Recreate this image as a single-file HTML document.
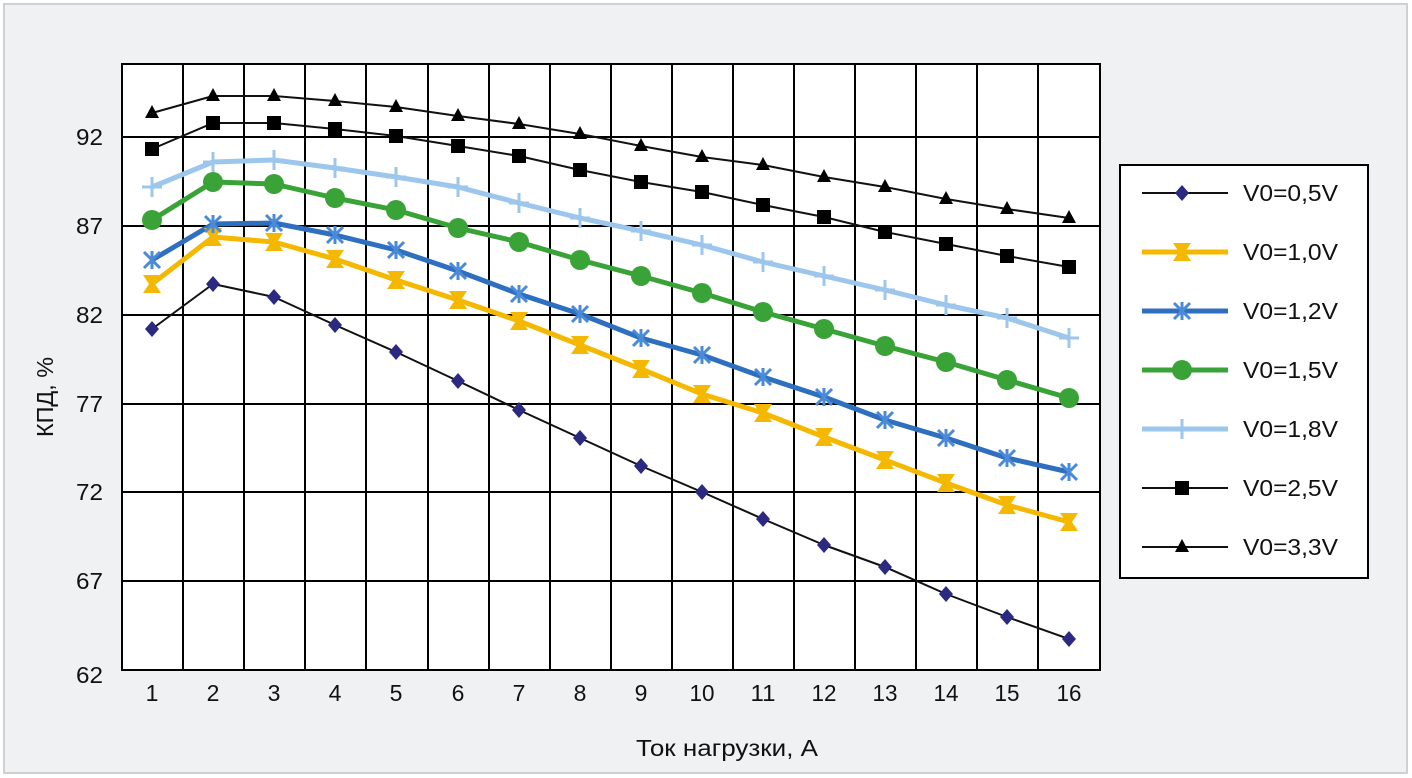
<!DOCTYPE html>
<html><head><meta charset="utf-8"><style>
html,body{margin:0;padding:0;background:#fff}
svg{display:block}
text{font-family:"Liberation Sans",sans-serif}
</style></head><body>
<svg width="1412" height="778" xmlns="http://www.w3.org/2000/svg" xmlns:xlink="http://www.w3.org/1999/xlink">
<defs>
<polygon id="md" points="0,-8 7,0 0,8 -7,0" fill="#2b2a80"/>
<polygon id="mh" points="-9,-9 9,-9 3,0 9,9 -9,9 -3,0" fill="#f5b800"/>
<path id="mx" d="M-8 -8L8 8M8 -8L-8 8M0 -9V9" stroke="#4a8ad6" stroke-width="3" fill="none"/>
<circle id="mo" r="10" fill="#3aa337"/>
<path id="mp" d="M-10 0H10M0 -10V10" stroke="#9cc6ec" stroke-width="3" fill="none"/>
<rect id="ms" x="-7" y="-7" width="14" height="14" fill="#000"/>
<polygon id="mt" points="0,-8 7,5 -7,5" fill="#000"/>
</defs>
<rect x="4" y="4" width="1403" height="769" fill="#f0f1f3" stroke="#cfd0d2" stroke-width="2"/>
<rect x="122" y="64" width="978" height="606" fill="#fff" stroke="#000" stroke-width="2"/>
<g stroke="#000" stroke-width="2">
<line x1="183" y1="64" x2="183" y2="670"/><line x1="244" y1="64" x2="244" y2="670"/><line x1="305" y1="64" x2="305" y2="670"/><line x1="366" y1="64" x2="366" y2="670"/><line x1="428" y1="64" x2="428" y2="670"/><line x1="489" y1="64" x2="489" y2="670"/><line x1="550" y1="64" x2="550" y2="670"/><line x1="611" y1="64" x2="611" y2="670"/><line x1="672" y1="64" x2="672" y2="670"/><line x1="733" y1="64" x2="733" y2="670"/><line x1="794" y1="64" x2="794" y2="670"/><line x1="855" y1="64" x2="855" y2="670"/><line x1="916" y1="64" x2="916" y2="670"/><line x1="977" y1="64" x2="977" y2="670"/><line x1="1038" y1="64" x2="1038" y2="670"/>
<line x1="122" y1="137" x2="1100" y2="137"/><line x1="122" y1="226" x2="1100" y2="226"/><line x1="122" y1="315" x2="1100" y2="315"/><line x1="122" y1="404" x2="1100" y2="404"/><line x1="122" y1="492" x2="1100" y2="492"/><line x1="122" y1="581" x2="1100" y2="581"/>
</g>
<g font-size="23" text-anchor="end" fill="#111">
<text x="103" y="145" textLength="27" lengthAdjust="spacingAndGlyphs">92</text><text x="103" y="234" textLength="27" lengthAdjust="spacingAndGlyphs">87</text><text x="103" y="323" textLength="27" lengthAdjust="spacingAndGlyphs">82</text><text x="103" y="412" textLength="27" lengthAdjust="spacingAndGlyphs">77</text><text x="103" y="500" textLength="27" lengthAdjust="spacingAndGlyphs">72</text><text x="103" y="589" textLength="27" lengthAdjust="spacingAndGlyphs">67</text><text x="103" y="683" textLength="27" lengthAdjust="spacingAndGlyphs">62</text>
</g>
<g font-size="23" text-anchor="middle" fill="#111">
<text x="152" y="701">1</text><text x="213" y="701">2</text><text x="274" y="701">3</text><text x="335" y="701">4</text><text x="396" y="701">5</text><text x="458" y="701">6</text><text x="519" y="701">7</text><text x="580" y="701">8</text><text x="641" y="701">9</text><text x="702" y="701" textLength="25" lengthAdjust="spacingAndGlyphs">10</text><text x="763" y="701" textLength="25" lengthAdjust="spacingAndGlyphs">11</text><text x="824" y="701" textLength="25" lengthAdjust="spacingAndGlyphs">12</text><text x="885" y="701" textLength="25" lengthAdjust="spacingAndGlyphs">13</text><text x="946" y="701" textLength="25" lengthAdjust="spacingAndGlyphs">14</text><text x="1007" y="701" textLength="25" lengthAdjust="spacingAndGlyphs">15</text><text x="1069" y="701" textLength="25" lengthAdjust="spacingAndGlyphs">16</text>
<text x="727" y="756" textLength="182" lengthAdjust="spacingAndGlyphs">Ток нагрузки, А</text>
<text transform="translate(53,397) rotate(-90)" textLength="80" lengthAdjust="spacingAndGlyphs">КПД, %</text>
</g>

<g fill="none" stroke-linejoin="round">
<polyline stroke="#111" stroke-width="2" points="152,329 213,284 274,297 335,325 396,352 458,381 519,410 580,438 641,466 702,492 763,519 824,545 885,567 946,594 1007,617 1069,639"/>
<polyline stroke="#f5b800" stroke-width="5" points="152,284 213,237 274,242 335,259 396,280 458,300 519,321 580,345 641,369 702,394 763,413 824,437 885,460 946,483 1007,505 1069,522"/>
<polyline stroke="#2f6fbf" stroke-width="5" points="152,260 213,224 274,223 335,235 396,250 458,271 519,294 580,314 641,338 702,355 763,377 824,397 885,420 946,438 1007,458 1069,472"/>
<polyline stroke="#3aa337" stroke-width="5" points="152,220 213,182 274,184 335,198 396,210 458,228 519,242 580,260 641,276 702,293 763,312 824,329 885,346 946,362 1007,380 1069,398"/>
<polyline stroke="#9cc6ec" stroke-width="5" points="152,187 213,162 274,160 335,168 396,177 458,187 519,203 580,218 641,231 702,245 763,262 824,276 885,290 946,305 1007,318 1069,338"/>
<polyline stroke="#111" stroke-width="2" points="152,149 213,123 274,123 335,129 396,136 458,146 519,156 580,170 641,182 702,192 763,205 824,217 885,232 946,244 1007,256 1069,267"/>
<polyline stroke="#111" stroke-width="2" points="152,113 213,96 274,96 335,101 396,107 458,116 519,124 580,134 641,146 702,157 763,165 824,177 885,187 946,199 1007,209 1069,218"/>
</g>
<g>
<use href="#md" x="152" y="329"/><use href="#md" x="213" y="284"/><use href="#md" x="274" y="297"/><use href="#md" x="335" y="325"/><use href="#md" x="396" y="352"/><use href="#md" x="458" y="381"/><use href="#md" x="519" y="410"/><use href="#md" x="580" y="438"/><use href="#md" x="641" y="466"/><use href="#md" x="702" y="492"/><use href="#md" x="763" y="519"/><use href="#md" x="824" y="545"/><use href="#md" x="885" y="567"/><use href="#md" x="946" y="594"/><use href="#md" x="1007" y="617"/><use href="#md" x="1069" y="639"/>
<use href="#mh" x="152" y="284"/><use href="#mh" x="213" y="237"/><use href="#mh" x="274" y="242"/><use href="#mh" x="335" y="259"/><use href="#mh" x="396" y="280"/><use href="#mh" x="458" y="300"/><use href="#mh" x="519" y="321"/><use href="#mh" x="580" y="345"/><use href="#mh" x="641" y="369"/><use href="#mh" x="702" y="394"/><use href="#mh" x="763" y="413"/><use href="#mh" x="824" y="437"/><use href="#mh" x="885" y="460"/><use href="#mh" x="946" y="483"/><use href="#mh" x="1007" y="505"/><use href="#mh" x="1069" y="522"/>
<use href="#mx" x="152" y="260"/><use href="#mx" x="213" y="224"/><use href="#mx" x="274" y="223"/><use href="#mx" x="335" y="235"/><use href="#mx" x="396" y="250"/><use href="#mx" x="458" y="271"/><use href="#mx" x="519" y="294"/><use href="#mx" x="580" y="314"/><use href="#mx" x="641" y="338"/><use href="#mx" x="702" y="355"/><use href="#mx" x="763" y="377"/><use href="#mx" x="824" y="397"/><use href="#mx" x="885" y="420"/><use href="#mx" x="946" y="438"/><use href="#mx" x="1007" y="458"/><use href="#mx" x="1069" y="472"/>
<use href="#mo" x="152" y="220"/><use href="#mo" x="213" y="182"/><use href="#mo" x="274" y="184"/><use href="#mo" x="335" y="198"/><use href="#mo" x="396" y="210"/><use href="#mo" x="458" y="228"/><use href="#mo" x="519" y="242"/><use href="#mo" x="580" y="260"/><use href="#mo" x="641" y="276"/><use href="#mo" x="702" y="293"/><use href="#mo" x="763" y="312"/><use href="#mo" x="824" y="329"/><use href="#mo" x="885" y="346"/><use href="#mo" x="946" y="362"/><use href="#mo" x="1007" y="380"/><use href="#mo" x="1069" y="398"/>
<use href="#mp" x="152" y="187"/><use href="#mp" x="213" y="162"/><use href="#mp" x="274" y="160"/><use href="#mp" x="335" y="168"/><use href="#mp" x="396" y="177"/><use href="#mp" x="458" y="187"/><use href="#mp" x="519" y="203"/><use href="#mp" x="580" y="218"/><use href="#mp" x="641" y="231"/><use href="#mp" x="702" y="245"/><use href="#mp" x="763" y="262"/><use href="#mp" x="824" y="276"/><use href="#mp" x="885" y="290"/><use href="#mp" x="946" y="305"/><use href="#mp" x="1007" y="318"/><use href="#mp" x="1069" y="338"/>
<use href="#ms" x="152" y="149"/><use href="#ms" x="213" y="123"/><use href="#ms" x="274" y="123"/><use href="#ms" x="335" y="129"/><use href="#ms" x="396" y="136"/><use href="#ms" x="458" y="146"/><use href="#ms" x="519" y="156"/><use href="#ms" x="580" y="170"/><use href="#ms" x="641" y="182"/><use href="#ms" x="702" y="192"/><use href="#ms" x="763" y="205"/><use href="#ms" x="824" y="217"/><use href="#ms" x="885" y="232"/><use href="#ms" x="946" y="244"/><use href="#ms" x="1007" y="256"/><use href="#ms" x="1069" y="267"/>
<use href="#mt" x="152" y="113"/><use href="#mt" x="213" y="96"/><use href="#mt" x="274" y="96"/><use href="#mt" x="335" y="101"/><use href="#mt" x="396" y="107"/><use href="#mt" x="458" y="116"/><use href="#mt" x="519" y="124"/><use href="#mt" x="580" y="134"/><use href="#mt" x="641" y="146"/><use href="#mt" x="702" y="157"/><use href="#mt" x="763" y="165"/><use href="#mt" x="824" y="177"/><use href="#mt" x="885" y="187"/><use href="#mt" x="946" y="199"/><use href="#mt" x="1007" y="209"/><use href="#mt" x="1069" y="218"/>
</g>

<rect x="1120" y="165" width="248" height="413" fill="#fff" stroke="#000" stroke-width="2"/>
<line x1="1142" y1="193" x2="1228" y2="193" stroke="#111" stroke-width="2"/><use href="#md" x="1182" y="193"/>
<line x1="1142" y1="252" x2="1228" y2="252" stroke="#f5b800" stroke-width="5"/><use href="#mh" x="1182" y="252"/>
<line x1="1142" y1="311" x2="1228" y2="311" stroke="#2f6fbf" stroke-width="5"/><use href="#mx" x="1182" y="311"/>
<line x1="1142" y1="370" x2="1228" y2="370" stroke="#3aa337" stroke-width="5"/><use href="#mo" x="1182" y="370"/>
<line x1="1142" y1="429" x2="1228" y2="429" stroke="#9cc6ec" stroke-width="5"/><use href="#mp" x="1182" y="429"/>
<line x1="1142" y1="488" x2="1228" y2="488" stroke="#111" stroke-width="2"/><use href="#ms" x="1182" y="488"/>
<line x1="1142" y1="547" x2="1228" y2="547" stroke="#111" stroke-width="2"/><use href="#mt" x="1182" y="547"/>
<g font-size="23" fill="#111">
<text x="1243" y="201" textLength="95" lengthAdjust="spacingAndGlyphs">V0=0,5V</text><text x="1243" y="260" textLength="95" lengthAdjust="spacingAndGlyphs">V0=1,0V</text><text x="1243" y="319" textLength="95" lengthAdjust="spacingAndGlyphs">V0=1,2V</text><text x="1243" y="378" textLength="95" lengthAdjust="spacingAndGlyphs">V0=1,5V</text><text x="1243" y="437" textLength="95" lengthAdjust="spacingAndGlyphs">V0=1,8V</text><text x="1243" y="496" textLength="95" lengthAdjust="spacingAndGlyphs">V0=2,5V</text><text x="1243" y="555" textLength="95" lengthAdjust="spacingAndGlyphs">V0=3,3V</text>
</g>
</svg>
</body></html>
